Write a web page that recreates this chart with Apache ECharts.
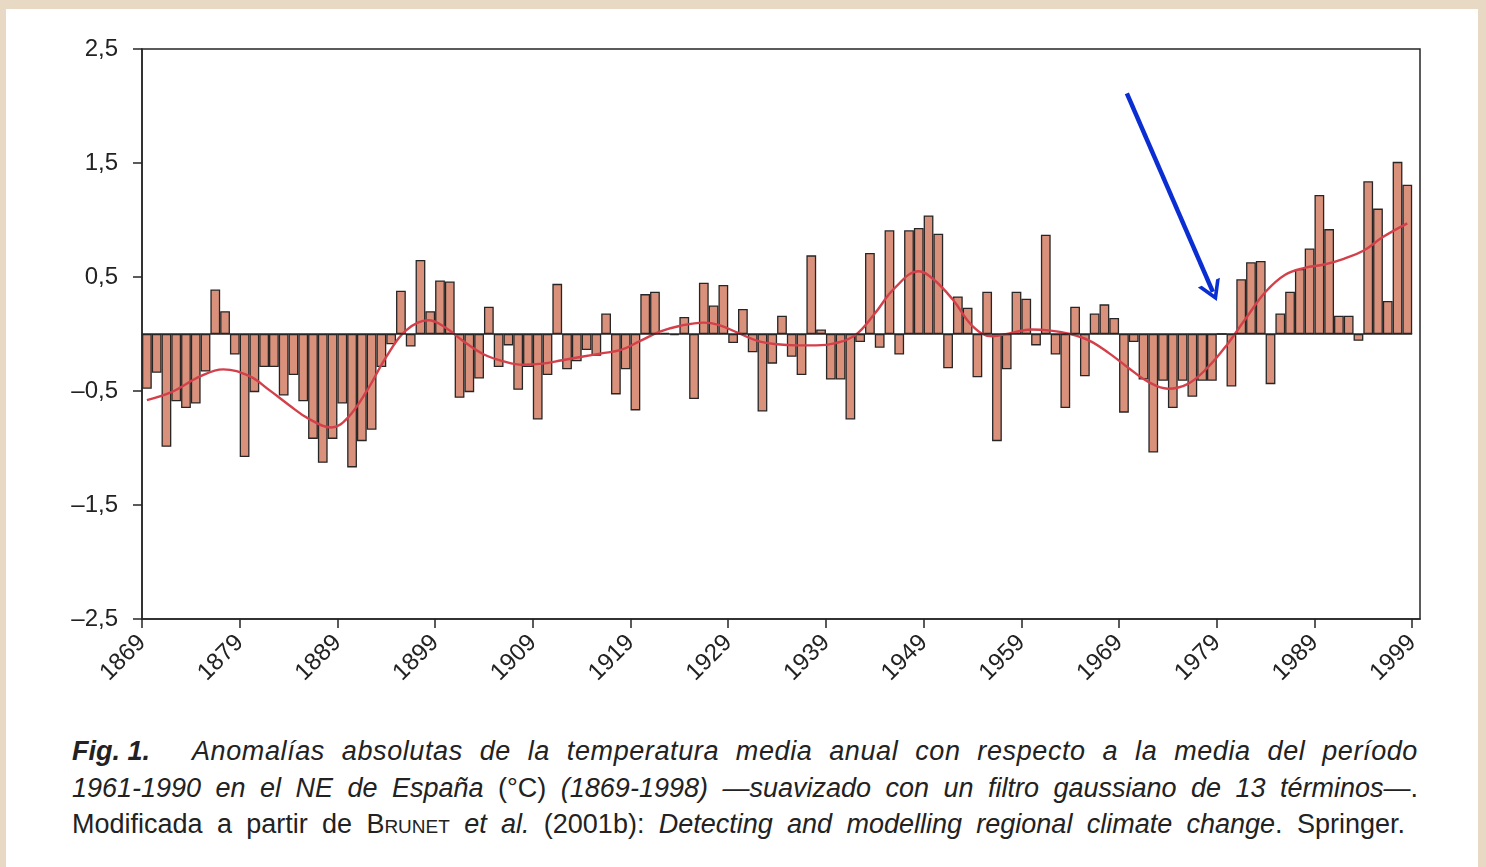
<!DOCTYPE html>
<html>
<head>
<meta charset="utf-8">
<script src="https://cdn.jsdelivr.net/npm/echarts@6/dist/echarts.min.js"></script>
<style>
  html, body { margin: 0; padding: 0; width: 1486px; height: 867px; background: #e7d9c3; overflow: hidden; }
  #sheet { position: absolute; left: 6px; top: 9px; width: 1472px; height: 858px; background: #fff; }
  #chart { position: absolute; left: 0; top: 0; width: 1472px; height: 700px; }
  #caption { position: absolute; left: 66px; top: 724px; width: 1346px; color: #222;
             font-family: "Liberation Sans", Arial, sans-serif; font-size: 27px; line-height: 36.5px; }
  #caption .row { white-space: nowrap; text-align: justify; text-align-last: justify; }
  #caption .fig { display: inline-block; width: 120px; text-align: left; text-align-last: left; }
  #caption .rest { display: inline-block; width: 1226px; letter-spacing: 0.6px; text-align: justify; text-align-last: justify; }
  .sc { font-variant: small-caps; }
</style>
</head>
<body>
<div id="sheet">
  <div id="chart"></div>
  <div id="caption">
    <div class="row"><span class="fig"><b><i>Fig. 1.</i></b></span><span class="rest"><i>Anomalías absolutas de la temperatura media anual con respecto a la media del período</i></span></div>
    <div class="row"><i>1961-1990 en el NE de España</i> (°C) <i>(1869-1998) —suavizado con un filtro gaussiano de 13 términos—</i>.</div>
    <div class="row" style="width:1333px">Modificada a partir de <span class="sc">Brunet</span> <i>et al.</i> (2001b): <i>Detecting and modelling regional climate change</i>. Springer.</div>
  </div>
</div>
<script>
// anomalias anuales 1869-1998 (ºC)
var firstYear = 1869;
var anomalies = [
  -0.48, -0.34, -0.99, -0.59, -0.65, -0.61, -0.33, 0.39, 0.20, -0.18,
  -1.08, -0.51, -0.29, -0.29, -0.54, -0.36, -0.59, -0.92, -1.13, -0.92,
  -0.61, -1.17, -0.94, -0.84, -0.29, -0.09, 0.38, -0.11, 0.65, 0.20,
  0.47, 0.46, -0.56, -0.51, -0.39, 0.24, -0.29, -0.10, -0.49, -0.29,
  -0.75, -0.36, 0.44, -0.31, -0.24, -0.14, -0.19, 0.18, -0.53, -0.31,
  -0.67, 0.35, 0.37, 0.01, -0.01, 0.15, -0.57, 0.45, 0.25, 0.43,
  -0.08, 0.22, -0.16, -0.68, -0.26, 0.16, -0.20, -0.36, 0.69, 0.04,
  -0.40, -0.40, -0.75, -0.07, 0.71, -0.12, 0.91, -0.18, 0.91, 0.93,
  1.04, 0.88, -0.30, 0.33, 0.23, -0.38, 0.37, -0.94, -0.31, 0.37,
  0.31, -0.10, 0.87, -0.18, -0.65, 0.24, -0.37, 0.18, 0.26, 0.14,
  -0.69, -0.07, -0.40, -1.04, -0.41, -0.65, -0.41, -0.55, -0.41, -0.41,
  0.00, -0.46, 0.48, 0.63, 0.64, -0.44, 0.18, 0.37, 0.57, 0.75,
  1.22, 0.92, 0.16, 0.16, -0.06, 1.34, 1.10, 0.29, 1.51, 1.31
];
var years = anomalies.map(function (v, i) { return firstYear + i; });

// curva suavizada (filtro gaussiano)
var smoothX = [
  1869.5, 1872, 1875, 1877.3, 1880, 1882, 1884, 1886, 1888.4, 1890,
  1892, 1894, 1896, 1898.3, 1900, 1902, 1904, 1906, 1908, 1910,
  1912, 1914, 1916, 1918, 1920, 1922, 1924, 1926.5, 1928, 1930,
  1932, 1934, 1936, 1938, 1940, 1942, 1944, 1946, 1948.5, 1950,
  1952, 1954, 1956, 1958, 1960, 1962, 1964, 1966, 1968, 1970,
  1972, 1974, 1976, 1978, 1980, 1982, 1984, 1986, 1988, 1990,
  1992, 1994, 1996, 1998.5
];
var smoothY = [
  -0.58, -0.51, -0.37, -0.31, -0.37, -0.49, -0.62, -0.74, -0.82, -0.74,
  -0.50, -0.20, 0.03, 0.12, 0.06, -0.07, -0.18, -0.24, -0.27, -0.26,
  -0.23, -0.20, -0.17, -0.14, -0.06, 0.02, 0.07, 0.10, 0.08, 0.01,
  -0.06, -0.09, -0.10, -0.10, -0.08, -0.01, 0.18, 0.40, 0.55, 0.48,
  0.30, 0.07, -0.02, 0.01, 0.04, 0.03, 0.00, -0.06, -0.17, -0.30,
  -0.42, -0.48, -0.44, -0.30, -0.10, 0.14, 0.37, 0.52, 0.58, 0.61,
  0.66, 0.73, 0.85, 0.97
];

var xTicks = [1869, 1879, 1889, 1899, 1909, 1919, 1929, 1939, 1949, 1959, 1969, 1979, 1989, 1999];
var yTicks = [-2.5, -1.5, -0.5, 0.5, 1.5, 2.5];

// flecha azul (anotacion)
var arrowFrom = [1969.8, 2.11];
var arrowTo = [1978.6, 0.37];

var ink = '#262626';
var font = '"Liberation Sans", Arial, sans-serif';

var chart = echarts.init(document.getElementById('chart'));
chart.setOption({
  animation: false,
  grid: { left: 136, top: 40, right: 58, bottom: 90, show: true, borderColor: ink, borderWidth: 1.5, backgroundColor: '#fff' },
  xAxis: {
    type: 'value', min: 1869, max: 1999.8,
    splitLine: { show: false },
    axisLine: { show: true, onZero: false, lineStyle: { color: ink, width: 1.5 } },
    axisTick: { show: true, length: 9, customValues: xTicks, lineStyle: { color: ink, width: 1.5 } },
    axisLabel: {
      customValues: xTicks, rotate: 45, margin: 20, fontSize: 24, color: '#222', fontFamily: font,
      formatter: function (v) { return String(v); }
    }
  },
  yAxis: {
    type: 'value', min: -2.5, max: 2.5,
    splitLine: { show: false },
    axisLine: { show: true, onZero: false, lineStyle: { color: ink, width: 1.5 } },
    axisTick: { show: true, length: 9, customValues: yTicks, lineStyle: { color: ink, width: 1.5 } },
    axisLabel: {
      customValues: yTicks, margin: 24, fontSize: 24, color: '#222', fontFamily: font,
      formatter: function (v) { return (v < 0 ? '\u2013' : '') + Math.abs(v).toFixed(1).replace('.', ','); }
    }
  },
  series: [
    {
      type: 'bar',
      data: years.map(function (y, i) { return [y + 0.5, anomalies[i]]; }),
      barWidth: '100%',
      itemStyle: { color: '#da917b', borderColor: ink, borderWidth: 1.3 },
      z: 2,
      markLine: {
        silent: true, symbol: 'none', label: { show: false },
        lineStyle: { color: ink, width: 1.5, type: 'solid' },
        data: [[{ coord: [firstYear, 0] }, { coord: [firstYear + anomalies.length, 0] }]]
      }
    },
    {
      type: 'line',
      data: smoothX.map(function (x, i) { return [x, smoothY[i]]; }),
      smooth: 0.4,
      showSymbol: false,
      lineStyle: { color: '#d3404a', width: 2.4 },
      z: 3,
      markLine: {
        silent: true,
        symbol: ['none', 'path://M10,0 L20,20 L16.5,20 L10,7 L3.5,20 L0,20 Z'],
        symbolSize: [24, 20],
        label: { show: false },
        lineStyle: { color: '#0a2ed2', width: 4.5, type: 'solid' },
        data: [[{ coord: arrowFrom }, { coord: arrowTo }]]
      }
    }
  ]
});
</script>
</body>
</html>
